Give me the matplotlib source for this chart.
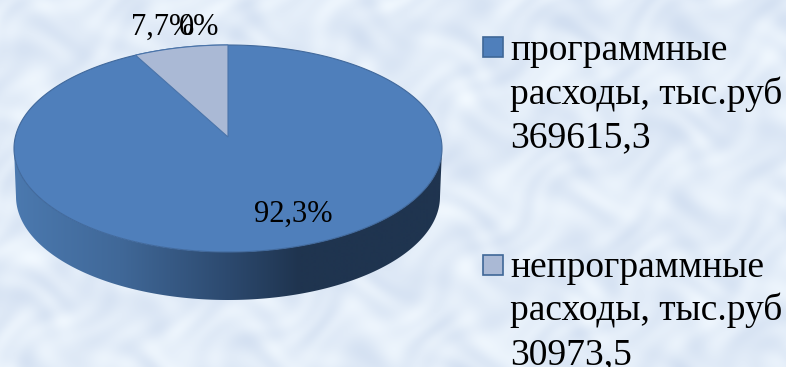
import numpy as np
import matplotlib
matplotlib.use("Agg")
import matplotlib.pyplot as plt
from matplotlib.patches import Polygon, Rectangle

plt.rcParams["font.family"] = ["Liberation Serif", "DejaVu Serif"]

# Chart data
categories = ["программные\nрасходы, тыс.руб\n369615,3", "непрограммные\nрасходы, тыс.руб\n30973,5"]
values = [369615.3, 30973.5]
slice_labels = ["92,3%", "7,7%", "0%"]

BLUE = "#4f7fbb"
LIGHT = "#aab9d5"

# Pie geometry, in pixels of the reference
CX, CY = 228, 148.5
RX, RY = 214, 103.5
APEX_Y = 137
DEPTH = 48


def background(h, w):
    """Pale mottled backdrop built from many crossing, warped sine waves."""
    y, x = np.mgrid[0:h, 0:w]
    u = x + 9 * np.sin(y / 13) + 6 * np.sin(x / 21 + y / 31)
    v = y + 9 * np.sin(x / 17) + 6 * np.cos(y / 23 - x / 27)
    m = np.zeros((h, w))
    for angle, period in [(0.3, 17), (1.1, 23), (1.9, 13), (2.6, 29), (0.8, 9), (2.2, 11), (1.5, 37)]:
        m += np.sin((u * np.cos(angle) + v * np.sin(angle)) / period * 2 + angle * 5)
    m = m / np.abs(m).max()
    base = np.array([226, 236, 248]) / 255
    amp = np.array([16, 13, 7]) / 255
    return np.clip(base[None, None, :] + m[..., None] * amp[None, None, :], 0, 1)


fig = plt.figure(figsize=(7.86, 3.67), dpi=100)
ax = fig.add_axes([0, 0, 1, 1])
ax.imshow(background(367, 786), extent=(0, 786, 367, 0), aspect="auto", zorder=0)
ax.set_xlim(0, 786)
ax.set_ylim(367, 0)
ax.axis("off")

# Side wall: horizontal gradient clipped to the area under the top ellipse
t = np.linspace(0, np.pi, 200)
upper_edge = np.column_stack([CX + RX * np.cos(t), CY + RY * np.sin(t)])
lower_edge = np.column_stack([CX + (RX - 2) * np.cos(t[::-1]), CY + DEPTH + RY * np.sin(t[::-1])])
side = Polygon(np.vstack([upper_edge, lower_edge]), closed=True, transform=ax.transData,
               facecolor="none", edgecolor="none")
ax.add_patch(side)
stops_x = [14, 120, 230, 300, 442]
stops = np.array([[75, 121, 175], [64, 104, 152], [44, 73, 110], [31, 52, 79], [31, 52, 79]]) / 255
xs = np.arange(14, 443)
grad = np.column_stack([np.interp(xs, stops_x, stops[:, i]) for i in range(3)])[None, :, :]
img = ax.imshow(grad, extent=(14, 442, 367, 0), aspect="auto", zorder=1)
img.set_clip_path(side)
ax.set_xlim(0, 786)
ax.set_ylim(367, 0)

# Top face
share = values[1] / sum(values)
t = np.linspace(0, 2 * np.pi, 400)
ax.fill(CX + RX * np.cos(t), CY + RY * np.sin(t), color=BLUE, ec="#41699c", lw=0.8, zorder=2)

# Small slice, running anticlockwise from 12 o'clock
a = np.linspace(0, 2 * np.pi * share * 0.92, 40)
xy = np.column_stack([CX - RX * np.sin(a), CY - RY * np.cos(a)])
wedge = Polygon(np.vstack([[CX, APEX_Y], xy]), closed=True, facecolor=LIGHT,
                edgecolor="#4a74aa", lw=0.8, zorder=3)
ax.add_patch(wedge)

# Slice labels
ax.text(293, 222, slice_labels[0], fontsize=22, ha="center", va="baseline", zorder=5)
ax.text(163, 35, slice_labels[1], fontsize=22, ha="center", va="baseline", zorder=5)
ax.text(199, 35, slice_labels[2], fontsize=22, ha="center", va="baseline", zorder=5)

# Legend
for name, color, box_y, base_y in zip(categories, [BLUE, LIGHT], [37, 254.5], [60, 277]):
    ax.add_patch(Rectangle((482.5, box_y), 20, 20, facecolor=color, edgecolor="#3f6797", lw=1.2, zorder=4))
    for i, line in enumerate(name.split("\n")):
        ax.text(510.5, base_y + 43.5 * i, line, fontsize=27, ha="left", va="baseline", color="black", zorder=5)

fig.savefig("out.png", dpi=100)
